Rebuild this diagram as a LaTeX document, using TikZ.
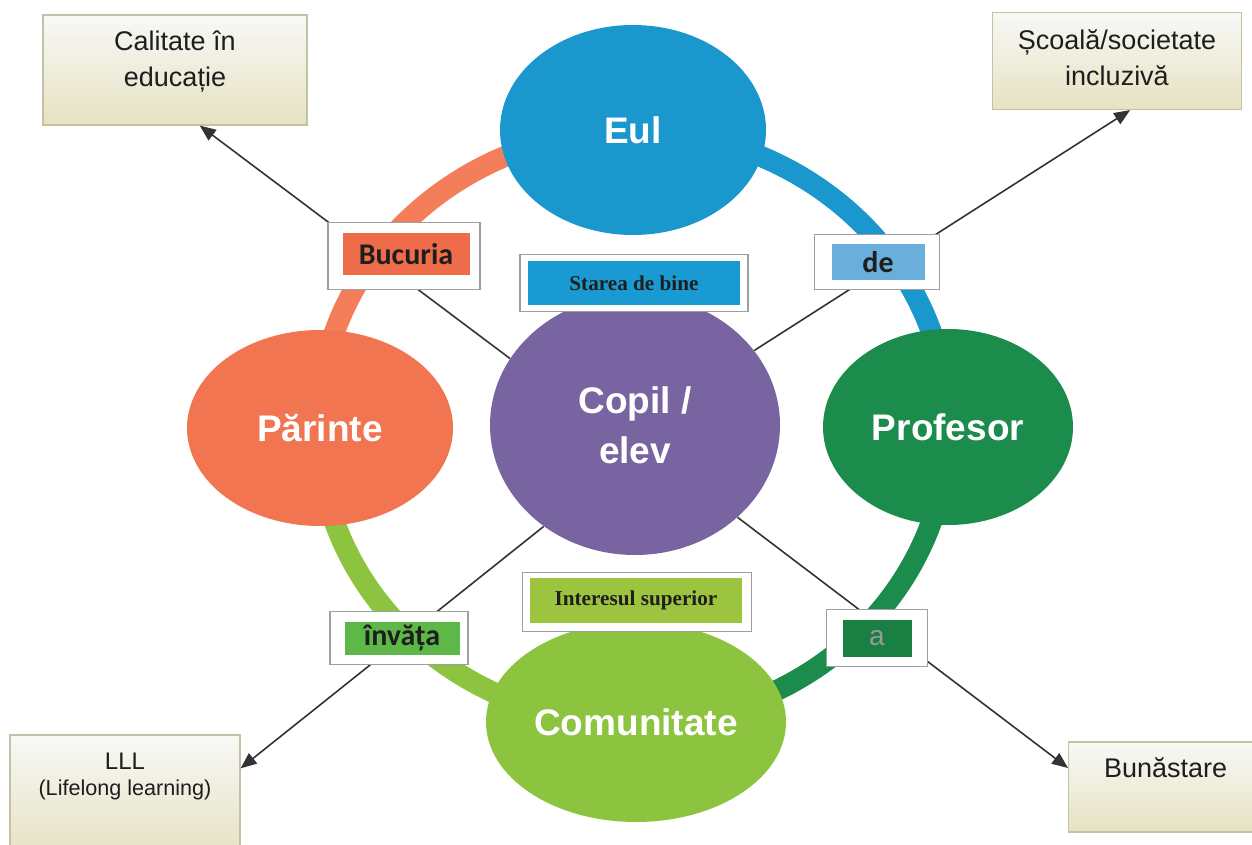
\documentclass[tikz,border=0pt]{standalone}
\usepackage{fontspec}
\setmainfont{Liberation Sans}
\newfontfamily\calibri{Carlito}
\newfontfamily\tnr{Liberation Serif}
\usetikzlibrary{arrows.meta,shapes.geometric,positioning}

\definecolor{eulblue}{HTML}{1A98CD}
\definecolor{parorange}{HTML}{F07550}
\definecolor{profgreen}{HTML}{1B8C4C}
\definecolor{comgreen}{HTML}{8CC43F}
\definecolor{copilpurple}{HTML}{7864A0}
\definecolor{ringorange}{HTML}{F47E5A}
\definecolor{bucorange}{HTML}{EF6C4A}
\definecolor{delightblue}{HTML}{6AAEDB}
\definecolor{stareblue}{HTML}{1A9AD3}
\definecolor{intgreen}{HTML}{9CC43E}
\definecolor{invgreen}{HTML}{5DB848}
\definecolor{adarkgreen}{HTML}{1A7F42}
\definecolor{boxtop}{HTML}{F8F8F6}
\definecolor{boxbot}{HTML}{E6E2C2}
\definecolor{boxedge}{HTML}{C4C2A4}
\definecolor{linegray}{HTML}{333333}
\definecolor{tagtext}{HTML}{1E1E1E}

\tikzset{
  actor/.style={ellipse, fill=#1, text=white, inner sep=0pt, align=center,
    font=\fontsize{18.5}{25}\selectfont\bfseries},
  hoop/.style={draw=#1, line width=10.5pt},
  goal/.style={rectangle, draw=boxedge, line width=0.6pt, top color=boxtop, bottom color=boxbot, inner sep=0pt},
  goaltext/.style={inner sep=0pt, align=center, text=tagtext, font=\fontsize{13.5}{18}\selectfont},
  tagframe/.style={rectangle, draw=gray!75, line width=0.6pt, fill=white, inner sep=0pt},
  tag/.style={rectangle, fill=#1, inner sep=0pt, text=tagtext, font=\calibri\bfseries\fontsize{15}{18}\selectfont},
  seriftag/.style={tag=#1, font=\tnr\bfseries\fontsize{10.6}{12}\selectfont},
  link/.style={draw=linegray, line width=0.8pt, -{Triangle[length=8pt,width=6.5pt]}}
}

\begin{document}
\begin{tikzpicture}[x=0.5pt,y=-0.5pt]
\useasboundingbox (0,0) rectangle (1252,845);
\coordinate (hub) at (633,427);
\draw[hoop=ringorange] ([yshift=148pt]hub) arc[start angle=90,end angle=180,x radius=157.5pt,y radius=148pt];
\draw[hoop=eulblue] ([yshift=148pt]hub) arc[start angle=90,end angle=0,x radius=157.5pt,y radius=148pt];
\draw[hoop=profgreen] ([xshift=157.5pt]hub) arc[start angle=0,end angle=-90,x radius=157.5pt,y radius=148pt];
\draw[hoop=comgreen] ([xshift=-157.5pt]hub) arc[start angle=180,end angle=270,x radius=157.5pt,y radius=148pt];

\node[actor=eulblue, minimum width=133pt, minimum height=105pt] (eul) at (633,130) {Eul};
\node[actor=parorange, minimum width=133pt, minimum height=98pt] (parinte) at (320,428) {Părinte};
\node[actor=profgreen, minimum width=125pt, minimum height=98pt] (profesor) at (948,427) {Profesor};
\node[actor=comgreen, minimum width=150pt, minimum height=100pt] (comunitate) at (636,722) {Comunitate};
\node[actor=copilpurple, minimum width=145pt, minimum height=130pt] (copil) at (635,425) {Copil /\\elev};

\node[goal, minimum width=132pt, minimum height=55pt] (calitate) at (175,70) {};
\node[goaltext, below=8pt of calitate.north] (calitatetext) {Calitate în\\educație};
\node[goal, minimum width=124.5pt, minimum height=48.5pt] (scoala) at (1117,61) {};
\node[goaltext, below=8.5pt of scoala.north] (scoalatext) {Școală/societate\\incluzivă};
\node[goal, minimum width=115pt, minimum height=60pt] (lll) at (125,795) {};
\node[goaltext, below=9pt of lll.north, font=\fontsize{10.8}{13}\selectfont] (llltext)
  {{\fontsize{12}{13}\selectfont LLL}\\(Lifelong learning)};
\node[goal, minimum width=110pt, minimum height=45pt, anchor=west] (bunastare) at (1068,787) {};
\node[goaltext, below=8pt of bunastare.north, xshift=-6.5pt] (bunastaretext) {Bunăstare};

\draw[link] (copil.152) -- (calitate.294);
\draw[link] (copil.32) -- (scoala.285);
\draw[link] (copil.228) -- (lll.13);
\draw[link] (copil.318) -- ([yshift=9.5pt]bunastare.west);

\node[tagframe, minimum width=76pt, minimum height=33.5pt] (bucuriaframe) at (404,256) {};
\node[tag=bucorange, minimum width=63.5pt, minimum height=21pt] (bucuria) at (406,254) {Bucuria};
\node[tagframe, minimum width=62.5pt, minimum height=27.5pt] (deframe) at (877,262) {};
\node[tag=delightblue, minimum width=46.5pt, minimum height=17.5pt] (de) at (878,262) {de};
\node[tagframe, minimum width=114pt, minimum height=28.5pt] (stareaframe) at (634,283) {};
\node[seriftag=stareblue, minimum width=106pt, minimum height=21.5pt] (starea) at (634,283) {Starea de bine};
\node[tagframe, minimum width=114.5pt, minimum height=29.5pt] (interesulframe) at (637,602) {};
\node[seriftag=intgreen, minimum width=106pt, minimum height=22.5pt] (interesul) at (636,600) {Interesul superior};
\node[tagframe, minimum width=69pt, minimum height=26.5pt] (invataframe) at (399,638) {};
\node[tag=invgreen, minimum width=57.5pt, minimum height=16.5pt] (invata) at (402,638) {învăța};
\node[tagframe, minimum width=50.5pt, minimum height=28.5pt] (aframe) at (877,638) {};
\node[tag=adarkgreen, minimum width=34.5pt, minimum height=18.5pt, text=gray!80,
  font=\fontsize{14}{18}\selectfont] (a) at (877,638) {a};
\end{tikzpicture}
\end{document}
